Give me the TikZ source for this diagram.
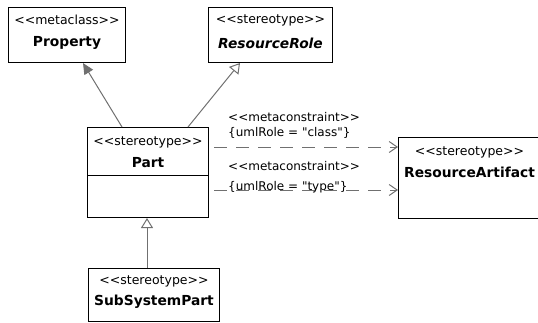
\documentclass[tikz,border=0pt]{standalone}
\usepackage{fontspec}
\newfontfamily\umlfont{DejaVu Sans}[Ligatures=TeXOff]
\usetikzlibrary{arrows.meta,positioning}
\definecolor{edgegray}{HTML}{707070}
\tikzset{
  umlbox/.style={draw,line width=1pt,anchor=north west,inner sep=0pt},
  stereo/.style={font=\umlfont\fontsize{12.5}{14}\selectfont,inner sep=0pt},
  constr/.style={font=\umlfont\fontsize{12}{14}\selectfont,inner sep=0pt,anchor=west},
  cname/.style={font=\umlfont\bfseries\fontsize{13.8}{16}\selectfont,inner sep=0pt},
  assoc/.style={draw=edgegray,line width=1pt,-{Triangle[length=11pt,width=10pt,fill=edgegray]}},
  general/.style={draw=edgegray,line width=1pt,-{Triangle[open,length=10pt,width=12pt]}},
  depend/.style={draw=edgegray,line width=1pt,dash pattern=on 13pt off 9pt,-{Straight Barb[length=8pt,width=11pt]}}
}

\begin{document}
\begin{tikzpicture}[x=1pt,y=1pt]
      \clip (0,0) rectangle (538,-322);
      % classes
      \node[umlbox,minimum width=117pt,minimum height=55pt] (property) at (8,-7) {};
      \node[stereo] (propertyst) at ([yshift=-12.5pt]property.north) {<<metaclass>>};
      \node[cname] (propertynm) at ([yshift=-36pt]property.north) {Property};
      \node[umlbox,minimum width=124pt,minimum height=55pt] (role) at (208,-7) {};
      \node[stereo] (rolest) at ([yshift=-13pt]role.north) {<<stereotype>>};
      \node[cname] (rolenm) at ([yshift=-36pt]role.north) {\itshape ResourceRole};
      \node[umlbox,minimum width=121pt,minimum height=90pt] (part) at (87,-127) {};
      \node[stereo] (partst) at ([yshift=-15pt]part.north) {<<stereotype>>};
      \node[cname] (partnm) at ([yshift=-36pt]part.north) {Part};
      \draw[line width=1pt] ([yshift=-48pt]part.north west) -- ([yshift=-48pt]part.north east);
      \node[umlbox,minimum width=142pt,minimum height=81pt] (artifact) at (398,-137) {};
      \node[stereo] (artifactst) at ([yshift=-15pt]artifact.north) {<<stereotype>>};
      \node[cname] (artifactnm) at ([yshift=-35pt]artifact.north) {ResourceArtifact};
      \node[umlbox,minimum width=131pt,minimum height=53pt] (subsys) at (88,-268) {};
      \node[stereo] (subsysst) at ([yshift=-13pt]subsys.north) {<<stereotype>>};
      \node[cname] (subsysnm) at ([yshift=-34pt]subsys.north) {SubSystemPart};
      % relations
      \draw[assoc] ([xshift=35pt]part.north west) -- ([xshift=75pt]property.south west);
      \draw[general] ([xshift=101pt]part.north west) -- ([xshift=32pt]role.south west);
      \draw[general] ([xshift=59pt]subsys.north west) -- ([xshift=60pt]part.south west);
      \draw[depend] ([shift={(5pt,-20pt)}]part.north east) -- ([yshift=-10pt]artifact.north west);
      \draw[depend] ([shift={(5pt,-63pt)}]part.north east) -- ([yshift=-53pt]artifact.north west);
      % constraint labels
      \node[constr] (mc1) at (228,-117) {<<metaconstraint>>};
      \node[constr] (role1) at (228,-133) {\{umlRole = "class"\}};
      \node[constr] (mc2) at (228,-166) {<<metaconstraint>>};
      \node[constr] (role2) at (228,-187) {\{umlRole = "type"\}};
    \end{tikzpicture}
\end{document}
